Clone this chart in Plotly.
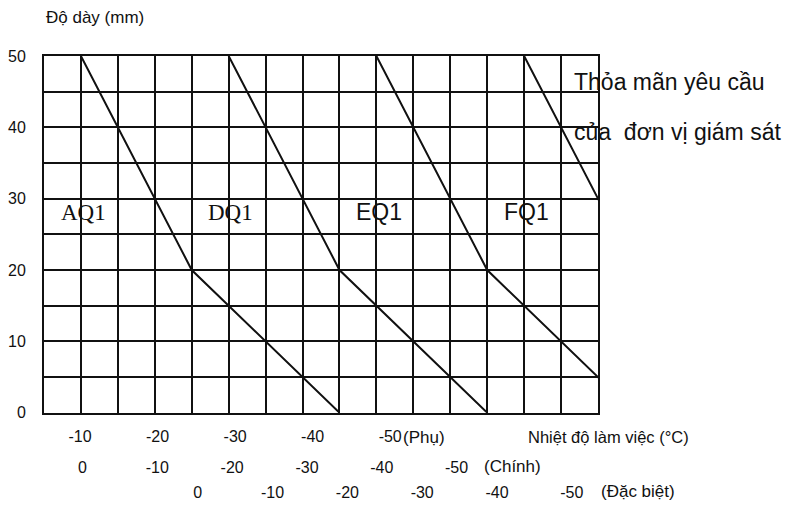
import plotly.graph_objects as go

# ---- data ----
series_names = ["AQ1", "DQ1", "EQ1", "FQ1"]
# working temperature (Phụ scale) and plate thickness (mm) for each curve
aq1_x = [-10, -25, -45]
aq1_y = [50, 20, 0]
dq1_x = [-30, -45, -65]
dq1_y = [50, 20, 0]
eq1_x = [-50, -65, -85]
eq1_y = [50, 20, 0]
fq1_x = [-70, -85, -105]
fq1_y = [50, 20, 0]

y_tick_values = [0, 10, 20, 30, 40, 50]
y_tick_labels = ["0", "10", "20", "30", "40", "50"]

phu_values = [-10, -20, -30, -40, -50]
phu_labels = ["-10", "-20", "-30", "-40", "-50"]
chinh_values = [0, -10, -20, -30, -40, -50]
chinh_labels = ["0", "-10", "-20", "-30", "-40", "-50"]
dacbiet_values = [0, -10, -20, -30, -40, -50]
dacbiet_labels = ["0", "-10", "-20", "-30", "-40", "-50"]

y_title = "Độ dày (mm)"
x_title = "Nhiệt độ làm việc (°C)"
row_suffixes = ["(Phụ)", "(Chính)", "(Đặc biệt)"]
note_lines = ["Thỏa mãn yêu cầu", "của  đơn vị giám sát"]

# ---- styling ----
SANS = "Liberation Sans, Arial, sans-serif"
SERIF = "Liberation Serif, Times New Roman, serif"
INK = "#111111"
label_fonts = [SERIF, SERIF, SANS, SANS]

W, H = 790, 506
ML, MR, MT, MB = 44, 192, 56, 0
plot_bottom_px = 420
paper_h = H - MT - MB
y_dom0 = (H - plot_bottom_px) / paper_h


def py(pix):
    return (H - pix) / paper_h


def px(pix):
    return (pix - ML) / (W - ML - MR)


fig = go.Figure()

xs = [aq1_x, dq1_x, eq1_x, fq1_x]
ys = [aq1_y, dq1_y, eq1_y, fq1_y]
for name, x, y in zip(series_names, xs, ys):
    fig.add_trace(go.Scatter(x=x, y=y, mode="lines", name=name,
                             line=dict(color=INK, width=2),
                             showlegend=False, hoverinfo="skip"))

# invisible helpers so the label axes exist
for ax, vals in (("x2", phu_values), ("x3", chinh_values), ("x4", dacbiet_values)):
    fig.add_trace(go.Scatter(x=vals, y=[None] * len(vals), xaxis=ax, yaxis="y",
                             mode="markers", marker=dict(opacity=0),
                             showlegend=False, hoverinfo="skip"))

tickfont = dict(family=SANS, size=16, color=INK)

fig.update_layout(
    width=W, height=H,
    margin=dict(l=ML, r=MR, t=MT, b=MB),
    paper_bgcolor="white", plot_bgcolor="white",
    xaxis=dict(range=[-5, -80], tick0=0, dtick=5, showticklabels=False,
               ticks="", showgrid=True, gridcolor=INK, gridwidth=1.6,
               zeroline=False, showline=True, mirror=True,
               linecolor=INK, linewidth=2),
    yaxis=dict(domain=[y_dom0, 1], range=[0, 50], tickvals=y_tick_values,
               ticktext=y_tick_labels, ticks="", tickfont=tickfont,
               ticklabelstandoff=13,
               showgrid=True, gridcolor=INK, gridwidth=1.6,
               minor=dict(dtick=5, showgrid=True, gridcolor=INK, gridwidth=1.6),
               zeroline=False, showline=True, mirror=True,
               linecolor=INK, linewidth=2),
    xaxis2=dict(overlaying="x", anchor="free", position=py(433),
                range=[-5.35, -76.8], tickvals=phu_values, ticktext=phu_labels,
                ticks="", showgrid=False, zeroline=False, showline=False,
                tickfont=tickfont),
    xaxis3=dict(overlaying="x", anchor="free", position=py(464),
                range=[5.15, -68.9], tickvals=chinh_values, ticktext=chinh_labels,
                ticks="", showgrid=False, zeroline=False, showline=False,
                tickfont=tickfont),
    xaxis4=dict(overlaying="x", anchor="free", position=py(490),
                range=[20.55, -53.5], tickvals=dacbiet_values, ticktext=dacbiet_labels,
                ticks="", showgrid=False, zeroline=False, showline=False,
                tickfont=tickfont),
)

ann = []
# axis titles
ann.append(dict(text=y_title, xref="paper", yref="paper", x=px(44), y=py(17),
                xanchor="left", yanchor="middle", showarrow=False,
                font=dict(family=SANS, size=17, color=INK)))
ann.append(dict(text=x_title, xref="paper", yref="paper", x=px(526), y=py(445),
                xanchor="left", yanchor="middle", showarrow=False,
                font=dict(family=SANS, size=16.5, color=INK)))
# row suffixes
for txt, lx, ly in zip(row_suffixes, [401, 482, 599], [445, 475, 500]):
    ann.append(dict(text=txt, xref="paper", yref="paper", x=px(lx), y=py(ly),
                    xanchor="left", yanchor="middle", showarrow=False,
                    font=dict(family=SANS, size=17, color=INK)))
# series labels, centred over each curve's starting temperature
for name, x, f in zip(series_names, xs, label_fonts):
    ann.append(dict(text=name, xref="x", yref="y", x=x[0] - 0.3, y=28.1,
                    xanchor="center", yanchor="middle", showarrow=False,
                    font=dict(family=f, size=23, color=INK)))
# note
for txt, ly in zip(note_lines, [83, 134]):
    ann.append(dict(text=txt, xref="paper", yref="paper", x=px(572), y=py(ly),
                    xanchor="left", yanchor="middle", showarrow=False,
                    font=dict(family=SANS, size=23, color=INK)))

fig.update_layout(annotations=ann)
fig.write_html("out.html")
